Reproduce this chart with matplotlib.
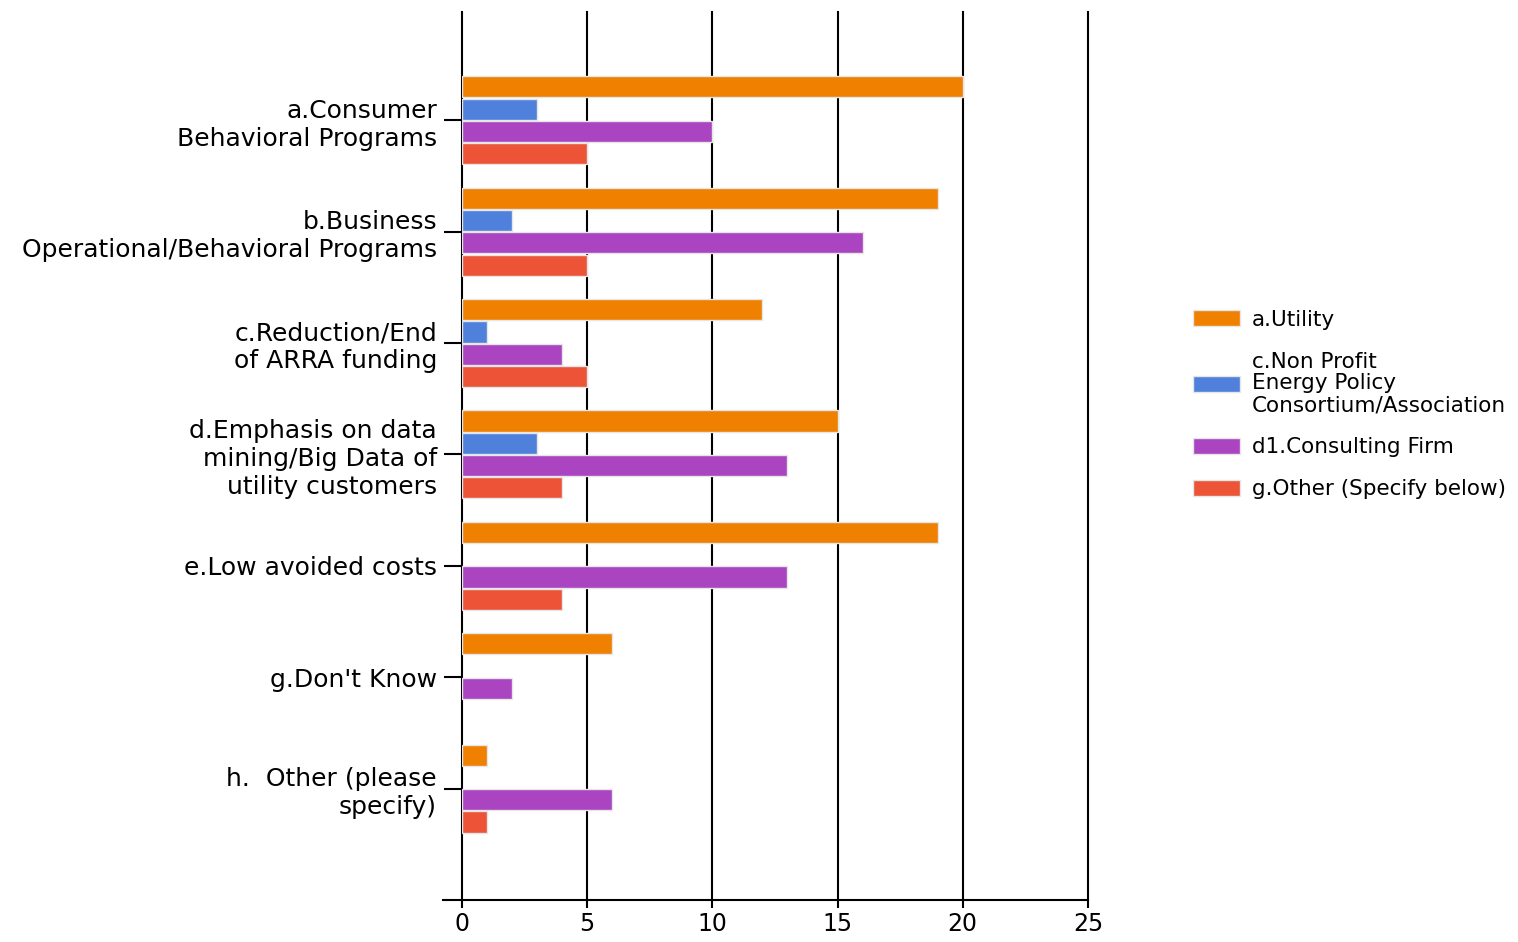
import matplotlib
matplotlib.use("Agg")
import matplotlib.pyplot as plt
import numpy as np

categories = [
    "a.Consumer\nBehavioral Programs",
    "b.Business\nOperational/Behavioral Programs",
    "c.Reduction/End\nof ARRA funding",
    "d.Emphasis on data\nmining/Big Data of\nutility customers",
    "e.Low avoided costs",
    "g.Don't Know",
    "h.  Other (please\nspecify)",
]
series_names = [
    "a.Utility",
    "c.Non Profit\nEnergy Policy\nConsortium/Association",
    "d1.Consulting Firm",
    "g.Other (Specify below)",
]
utility = [20, 19, 12, 15, 19, 6, 1]
non_profit = [3, 2, 1, 3, 0, 0, 0]
consulting = [10, 16, 4, 13, 13, 2, 6]
other = [5, 5, 5, 4, 4, 0, 1]
x_ticks = [0, 5, 10, 15, 20, 25]

colors = ["#ef8000", "#4f80dc", "#aa44c0", "#ec5337"]
offsets = [-0.3, -0.1, 0.1, 0.3]

fig = plt.figure(figsize=(15.18, 9.42), dpi=100)
ax = fig.add_axes([0.3043, 0.0446, 0.7167 - 0.3043, 0.987 - 0.0446])

y = np.arange(len(categories))
for vals, col, off, name in zip([utility, non_profit, consulting, other], colors, offsets, series_names):
    vals = np.array(vals, dtype=float)
    lw = [1.0 if v > 0 else 0 for v in vals]
    ax.barh(y + off, vals, height=0.19, color=col, edgecolor="#e6e6e6",
            linewidth=lw, label=name, zorder=3)

ax.set_xlim(0, 25)
ax.set_ylim(7.0, -0.97)
ax.set_xticks(x_ticks)
ax.set_yticks(y)
ax.set_yticklabels(categories, fontsize=18, ha="right", linespacing=1.2)
ax.tick_params(axis="y", length=13, width=1.5, pad=5)
ax.tick_params(axis="x", length=6, width=1.5, labelsize=17, pad=3)

for v in x_ticks[1:]:
    ax.axvline(v, color="black", linewidth=1.5, zorder=1, clip_on=False)

for s in ["top", "right"]:
    ax.spines[s].set_visible(False)
ax.spines["left"].set_linewidth(1.5)
ax.spines["bottom"].set_linewidth(1.5)
ax.spines["bottom"].set_bounds(-0.75, 25)
ax.spines["bottom"].set_clip_on(False)

leg = ax.legend(loc="upper left", bbox_to_anchor=(1.168, 0.665), frameon=False,
                fontsize=15.5, handlelength=2.19, handleheight=0.75,
                labelspacing=1.03, handletextpad=0.55,
                borderpad=0, borderaxespad=0)
for t in leg.get_texts():
    t.set_linespacing(1.1)

fig.savefig("out.png", dpi=100)
